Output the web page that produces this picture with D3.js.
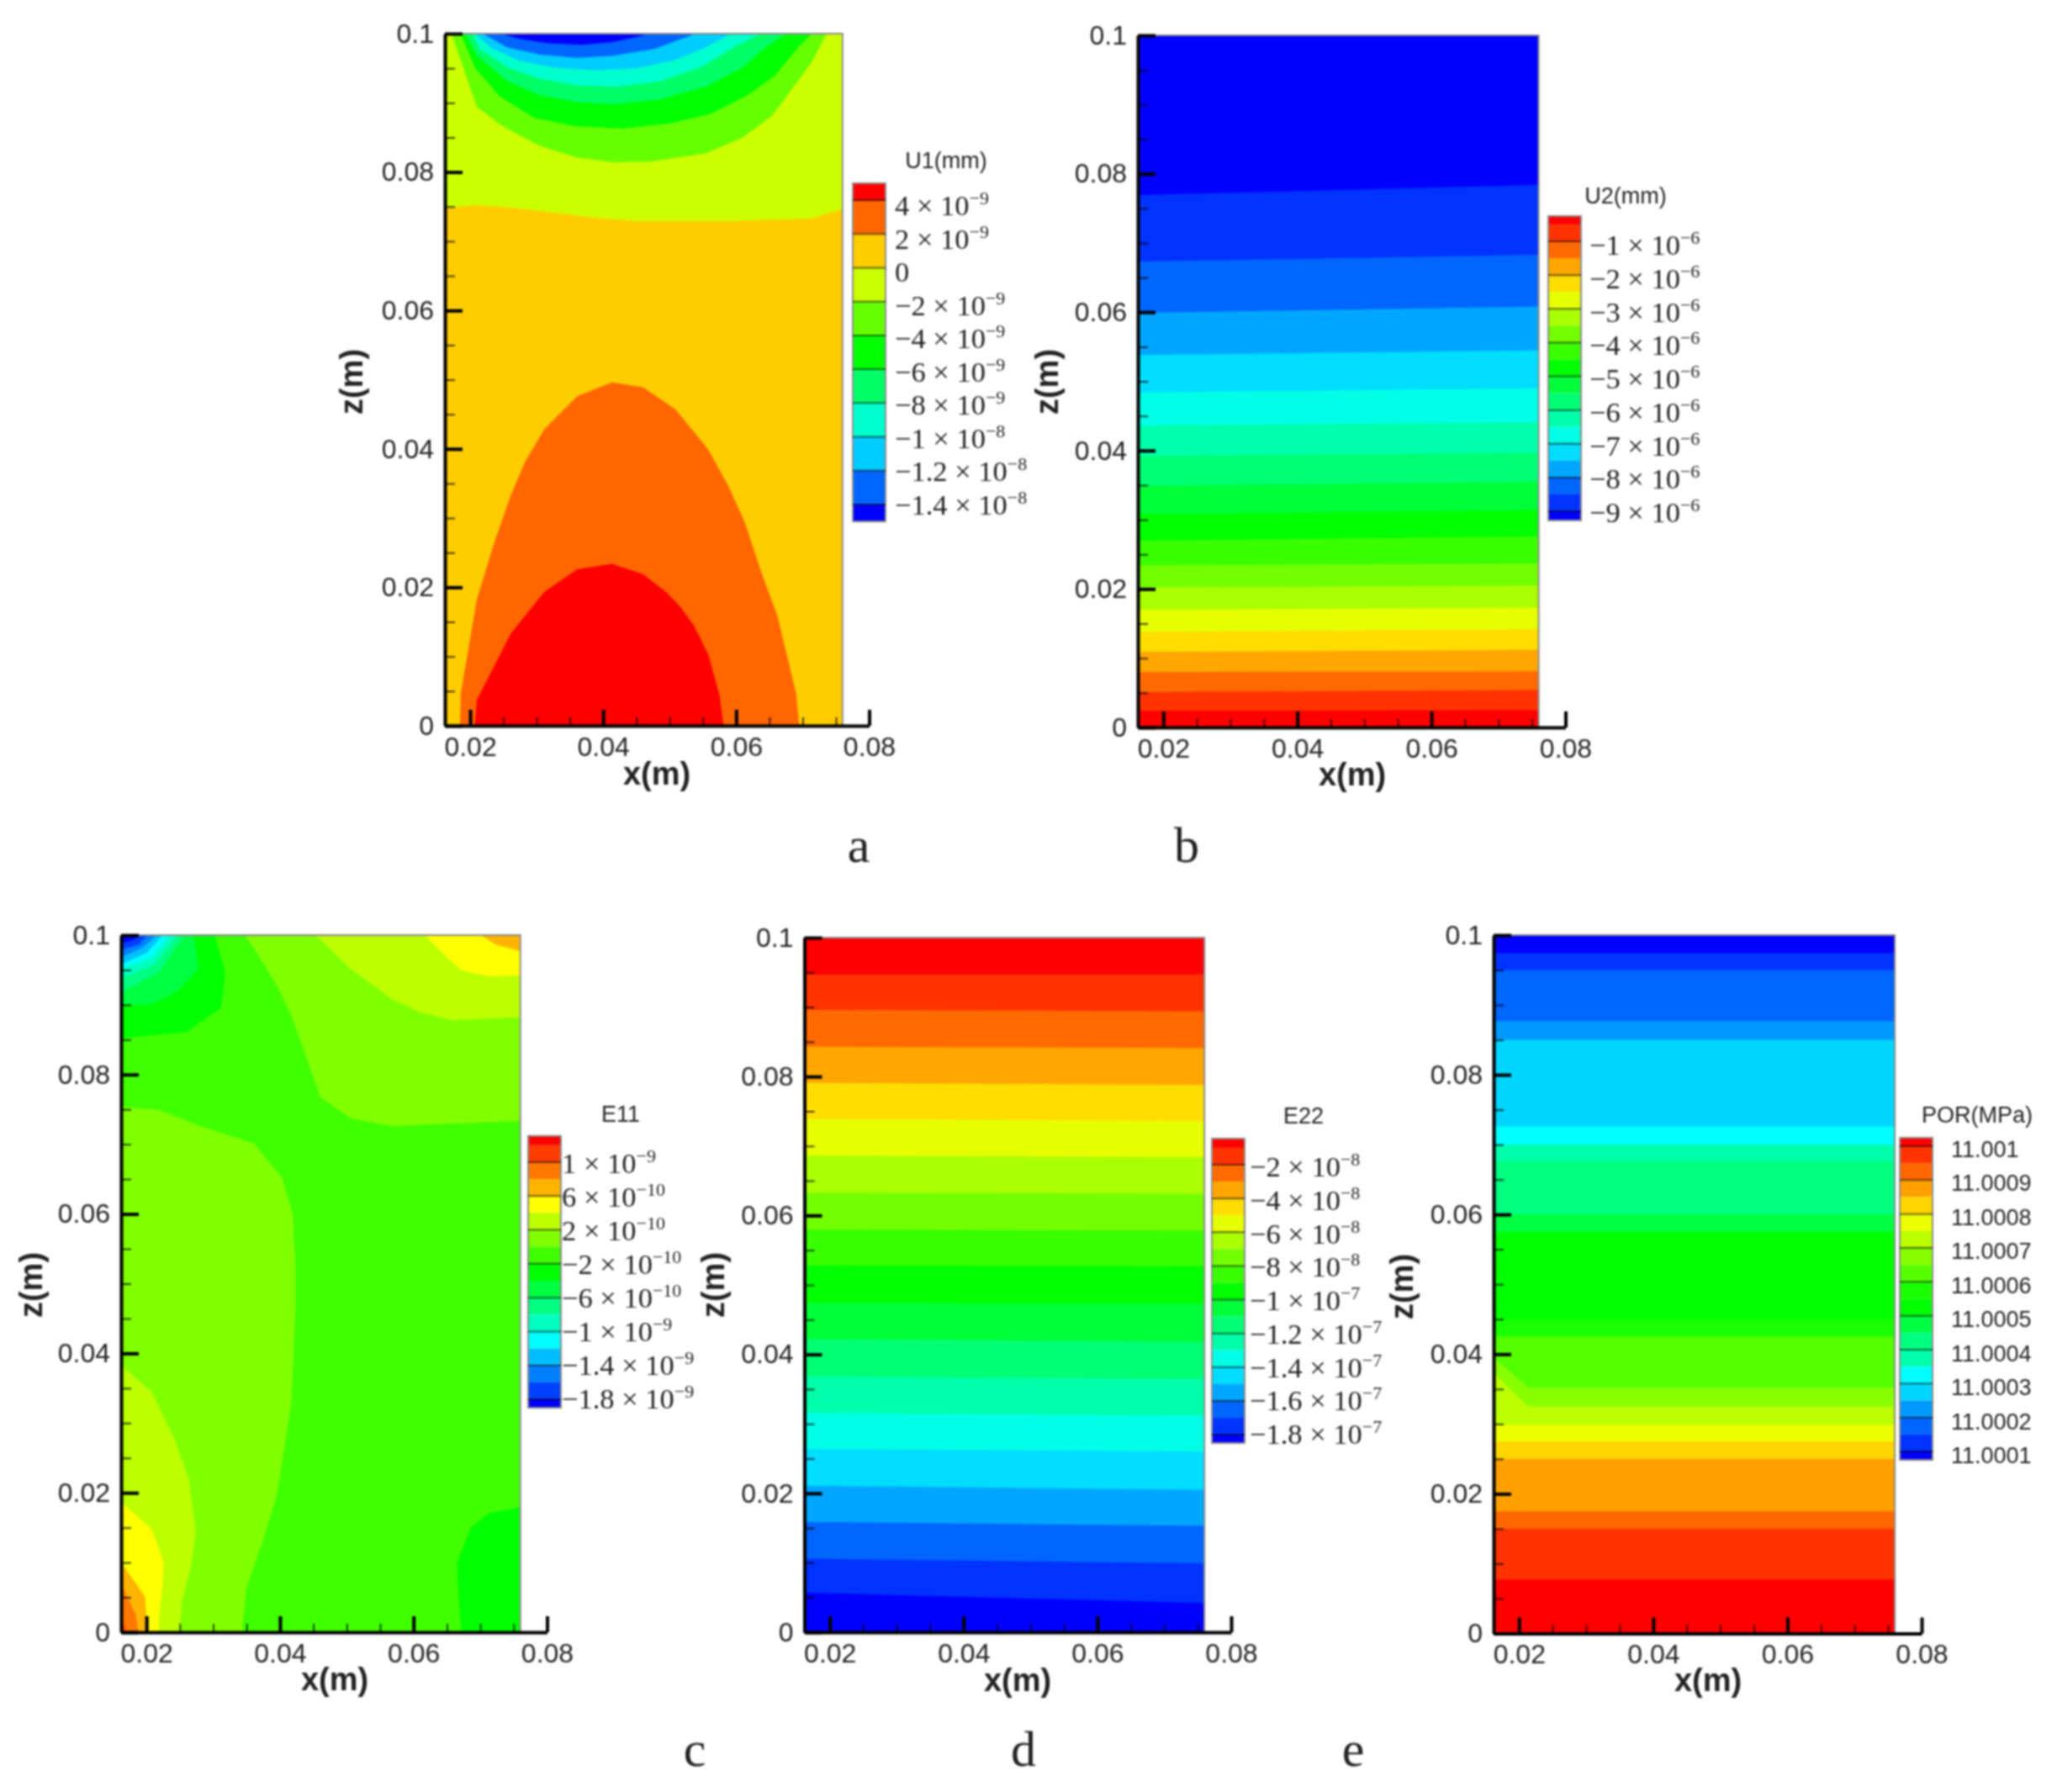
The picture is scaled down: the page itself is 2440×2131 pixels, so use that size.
<!DOCTYPE html>
<html>
<head>
<meta charset="utf-8">
<script src="https://cdn.jsdelivr.net/npm/d3@7"></script>
<style>
  html, body { margin: 0; padding: 0; background: #fff; }
  svg { display: block; filter: blur(0.8px); }
  .sans { font-family: "Liberation Sans", Arial, sans-serif; fill: #222; }
  .serif { font-family: "Liberation Serif", "Times New Roman", serif; fill: #222; }
</style>
</head>
<body>
<script>
// ! Axis values shared by all five panels
const xTicks = [0.02, 0.04, 0.06, 0.08];
const xMinorTicks = [0.025, 0.03, 0.035, 0.045, 0.05, 0.055, 0.065, 0.07, 0.075];
const zTicks = [0, 0.02, 0.04, 0.06, 0.08, 0.1];
const zMinorTicks = [0.005, 0.01, 0.015, 0.025, 0.03, 0.035, 0.045, 0.05, 0.055, 0.065, 0.07, 0.075, 0.085, 0.09, 0.095];
const xMin = 0.0162;
const xMax = 0.076;

// ! Panel a, U1: legend
const u1Edges = [5e-9, 4e-9, 2e-9, 0, -2e-9, -4e-9, -6e-9, -8e-9, -1e-8, -1.2e-8, -1.4e-8, -1.5e-8];
const u1Levels = [4e-9, 2e-9, 0, -2e-9, -4e-9, -6e-9, -8e-9, -1e-8, -1.2e-8, -1.4e-8];
const u1Labels = ["4 × 10^−9", "2 × 10^−9", "0", "−2 × 10^−9", "−4 × 10^−9", "−6 × 10^−9", "−8 × 10^−9", "−1 × 10^−8", "−1.2 × 10^−8", "−1.4 × 10^−8"];
const u1Colors = ["#ff0000", "#ff6600", "#ffcc00", "#ccff00", "#66ff00", "#00ff00", "#00ff66", "#00ffcc", "#00ccff", "#0066ff", "#0000ff"];

// ! Panel a, U1: contour outlines as [x, z]
const u1Orange = [[0.0185, 0], [0.0186, 0.0047], [0.021, 0.0182], [0.0235, 0.0261], [0.0261, 0.0333], [0.0283, 0.0382], [0.0312, 0.0429], [0.0361, 0.0476], [0.0413, 0.0496], [0.046, 0.0489], [0.0509, 0.0457], [0.0558, 0.0399], [0.0589, 0.0345], [0.0613, 0.0294], [0.0637, 0.0224], [0.0662, 0.0159], [0.069, 0.0047], [0.0695, 0]];
const u1Red = [[0.0207, 0], [0.021, 0.0037], [0.0235, 0.0084], [0.0261, 0.0133], [0.0311, 0.0193], [0.0361, 0.0226], [0.0413, 0.0234], [0.046, 0.0219], [0.0495, 0.0193], [0.0516, 0.0172], [0.0537, 0.0144], [0.0558, 0.0103], [0.0575, 0.0044], [0.0581, 0]];
const u1Zero = [[0.0162, 0.1], [0.0162, 0.0748], [0.0207, 0.0752], [0.0256, 0.0749], [0.0311, 0.0743], [0.0387, 0.0734], [0.045, 0.0729], [0.0589, 0.0729], [0.0714, 0.0733], [0.076, 0.0747], [0.076, 0.1]];
const u1Minus2 = [[0.0172, 0.1], [0.021, 0.0894], [0.0249, 0.0866], [0.0304, 0.0838], [0.036, 0.0821], [0.0415, 0.0814], [0.0471, 0.0815], [0.0554, 0.0827], [0.061, 0.085], [0.0655, 0.0882], [0.0683, 0.0919], [0.0714, 0.0959], [0.0736, 0.1]];
const u1Minus4 = [[0.0186, 0.1], [0.0207, 0.0951], [0.0245, 0.0909], [0.0297, 0.0878], [0.036, 0.0866], [0.0429, 0.0863], [0.0499, 0.087], [0.0561, 0.0884], [0.0617, 0.0911], [0.0658, 0.0939], [0.0693, 0.098], [0.0714, 0.1]];
const u1Minus6 = [[0.0193, 0.1], [0.021, 0.0968], [0.0256, 0.0931], [0.0304, 0.0911], [0.036, 0.0901], [0.0415, 0.0898], [0.0485, 0.0905], [0.0554, 0.0923], [0.061, 0.0951], [0.0644, 0.098], [0.0676, 0.1]];
const u1Minus8 = [[0.0203, 0.1], [0.0214, 0.0978], [0.0256, 0.0951], [0.0304, 0.0935], [0.036, 0.0925], [0.0422, 0.0923], [0.0485, 0.0931], [0.0547, 0.0951], [0.0596, 0.098], [0.0637, 0.1]];
const u1Minus10 = [[0.0207, 0.1], [0.0231, 0.098], [0.0273, 0.0961], [0.0325, 0.0951], [0.0387, 0.0947], [0.045, 0.095], [0.0506, 0.0961], [0.0554, 0.098], [0.0592, 0.1]];
const u1Minus12 = [[0.0219, 0.1], [0.0256, 0.098], [0.0304, 0.097], [0.036, 0.0965], [0.0415, 0.0968], [0.0478, 0.0978], [0.0539, 0.1]];
const u1Minus14 = [[0.0245, 0.1], [0.0276, 0.0992], [0.0318, 0.0986], [0.0367, 0.0984], [0.0415, 0.0988], [0.0471, 0.1]];

// ! Panel b, U2: legend and band boundaries (bottom to top, left edge / right edge)
const u2Edges = [-0.25e-6, -0.5e-6, -1e-6, -1.5e-6, -2e-6, -2.5e-6, -3e-6, -3.5e-6, -4e-6, -4.5e-6, -5e-6, -5.5e-6, -6e-6, -6.5e-6, -7e-6, -7.5e-6, -8e-6, -8.5e-6, -9e-6, -9.27e-6];
const u2Levels = [-1e-6, -2e-6, -3e-6, -4e-6, -5e-6, -6e-6, -7e-6, -8e-6, -9e-6];
const u2Labels = ["−1 × 10^−6", "−2 × 10^−6", "−3 × 10^−6", "−4 × 10^−6", "−5 × 10^−6", "−6 × 10^−6", "−7 × 10^−6", "−8 × 10^−6", "−9 × 10^−6"];
const rainbow19 = ["#ff0000", "#ff3300", "#ff6a00", "#ffa600", "#ffdd00", "#e6ff00", "#aaff00", "#73ff00", "#39ff00", "#00ff00", "#00ff39", "#00ff73", "#00ffaa", "#00ffe6", "#00ddff", "#00a6ff", "#0066ff", "#0033ff", "#0000ff"];
const u2Left = [0.0024, 0.0051, 0.008, 0.0109, 0.0138, 0.017, 0.0202, 0.0234, 0.027, 0.0308, 0.0349, 0.0392, 0.0436, 0.0484, 0.0538, 0.0599, 0.0673, 0.0769];
const u2Right = [0.0025, 0.0054, 0.0081, 0.0112, 0.0142, 0.0173, 0.0205, 0.0237, 0.0276, 0.0314, 0.0355, 0.0397, 0.0441, 0.049, 0.0545, 0.0608, 0.0683, 0.0784];

// ! Panel c, E11: legend
const e11Edges = [1.31e-9, 1.2e-9, 1e-9, 8e-10, 6e-10, 4e-10, 2e-10, 0, -2e-10, -4e-10, -6e-10, -8e-10, -1e-9, -1.2e-9, -1.4e-9, -1.6e-9, -1.8e-9, -1.9e-9];
const e11Levels = [1e-9, 6e-10, 2e-10, -2e-10, -6e-10, -1e-9, -1.4e-9, -1.8e-9];
const e11Labels = ["1 × 10^−9", "6 × 10^−10", "2 × 10^−10", "−2 × 10^−10", "−6 × 10^−10", "−1 × 10^−9", "−1.4 × 10^−9", "−1.8 × 10^−9"];
const e11Colors = ["#ff0000", "#ff3c00", "#ff7800", "#ffb400", "#ffff00", "#bbff00", "#80ff00", "#40ff00", "#00ff00", "#00ff40", "#00ff80", "#00ffc0", "#00ffff", "#00bfff", "#0080ff", "#0040ff", "#0000ff"];

// ! Panel c, E11: contour outlines as [x, z]
const e11RightA = [[0.0348, 0.1], [0.0374, 0.0961], [0.0395, 0.0928], [0.0416, 0.0887], [0.0437, 0.0831], [0.0461, 0.0767], [0.0506, 0.0737], [0.0568, 0.0726], [0.0672, 0.073], [0.076, 0.0733], [0.076, 0.1]];
const e11RightB = [[0.0453, 0.1], [0.0506, 0.0951], [0.0568, 0.0908], [0.061, 0.0889], [0.0658, 0.0878], [0.076, 0.0882], [0.076, 0.1]];
const e11RightC = [[0.0617, 0.1], [0.0648, 0.097], [0.0672, 0.0949], [0.0713, 0.0941], [0.076, 0.0942], [0.076, 0.1]];
const e11RightD = [[0.07, 0.1], [0.0724, 0.0986], [0.076, 0.0977], [0.076, 0.1]];
const e11LeftA = [[0.0162, 0], [0.0162, 0.0754], [0.0219, 0.0749], [0.0278, 0.0727], [0.0361, 0.0701], [0.0403, 0.0652], [0.0419, 0.06], [0.0423, 0.0531], [0.0423, 0.046], [0.0421, 0.0416], [0.0417, 0.0328], [0.0406, 0.0262], [0.0395, 0.0196], [0.0374, 0.013], [0.035, 0.0065], [0.0343, 0]];
const e11LeftB = [[0.0162, 0], [0.0162, 0.0383], [0.0208, 0.0345], [0.0243, 0.0275], [0.0264, 0.0218], [0.0274, 0.0144], [0.0267, 0.0095], [0.0253, 0.0043], [0.025, 0]];
const e11LeftC = [[0.0162, 0], [0.0162, 0.0187], [0.0208, 0.0148], [0.0226, 0.01], [0.0224, 0.0065], [0.0219, 0.0021], [0.0219, 0]];
const e11LeftD = [[0.0162, 0], [0.0162, 0.01], [0.0198, 0.0051], [0.02, 0.0021], [0.02, 0]];
const e11LeftE = [[0.0162, 0], [0.0162, 0.0069], [0.0184, 0.0025], [0.0188, 0]];
const e11LeftF = [[0.0162, 0], [0.0162, 0.0021], [0.017, 0]];
const e11Corner = [[0.076, 0], [0.076, 0.0179], [0.0713, 0.0171], [0.0686, 0.015], [0.0665, 0.01], [0.0668, 0.0043], [0.0672, 0]];
const e11TopA = [[0.0162, 0.1], [0.0162, 0.0852], [0.026, 0.0861], [0.0312, 0.0896], [0.0318, 0.0947], [0.0302, 0.1]];
const e11TopB = [[0.0162, 0.1], [0.0162, 0.0898], [0.0208, 0.0901], [0.0246, 0.0919], [0.0278, 0.0951], [0.0271, 0.1]];
const e11TopC = [[0.0162, 0.1], [0.0162, 0.0918], [0.0219, 0.0947], [0.0257, 0.1]];
const e11TopD = [[0.0162, 0.1], [0.0162, 0.0938], [0.0212, 0.0958], [0.0246, 0.1]];
const e11TopE = [[0.0162, 0.1], [0.0162, 0.0951], [0.0208, 0.0968], [0.0235, 0.1]];
const e11TopF = [[0.0162, 0.1], [0.0162, 0.0958], [0.0201, 0.0975], [0.0224, 0.1]];
const e11TopG = [[0.0162, 0.1], [0.0162, 0.0968], [0.0194, 0.0982], [0.0215, 0.1]];
const e11TopH = [[0.0162, 0.1], [0.0162, 0.0979], [0.0188, 0.0986], [0.0201, 0.1]];
const e11TopI = [[0.0162, 0.1], [0.0162, 0.0988], [0.0181, 0.0993], [0.0188, 0.1]];

// ! Panel d, E22: legend and band boundaries (top to bottom)
const e22Edges = [-0.45e-8, -1e-8, -2e-8, -3e-8, -4e-8, -5e-8, -6e-8, -7e-8, -8e-8, -9e-8, -1e-7, -1.1e-7, -1.2e-7, -1.3e-7, -1.4e-7, -1.5e-7, -1.6e-7, -1.7e-7, -1.8e-7, -1.85e-7];
const e22Levels = [-2e-8, -4e-8, -6e-8, -8e-8, -1e-7, -1.2e-7, -1.4e-7, -1.6e-7, -1.8e-7];
const e22Labels = ["−2 × 10^−8", "−4 × 10^−8", "−6 × 10^−8", "−8 × 10^−8", "−1 × 10^−7", "−1.2 × 10^−7", "−1.4 × 10^−7", "−1.6 × 10^−7", "−1.8 × 10^−7"];
const e22Left = [0.0947, 0.0896, 0.0843, 0.0791, 0.0739, 0.0686, 0.0633, 0.058, 0.0528, 0.0474, 0.0422, 0.0368, 0.0316, 0.0264, 0.0211, 0.0159, 0.0106, 0.0057];
const e22Right = [0.0947, 0.0894, 0.0841, 0.0788, 0.0736, 0.0684, 0.0631, 0.0578, 0.0527, 0.0473, 0.0418, 0.0365, 0.0312, 0.026, 0.0205, 0.0153, 0.0099, 0.0042];

// ! Panel e, POR: legend and band boundaries (top to bottom, left edge / knee / right edge)
const porEdges = [11.001025, 11.001, 11.00095, 11.0009, 11.00085, 11.0008, 11.00075, 11.0007, 11.00065, 11.0006, 11.00055, 11.0005, 11.00045, 11.0004, 11.00035, 11.0003, 11.00025, 11.0002, 11.00015, 11.0001, 11.000075];
const porLevels = [11.001, 11.0009, 11.0008, 11.0007, 11.0006, 11.0005, 11.0004, 11.0003, 11.0002, 11.0001];
const porLabels = ["11.001", "11.0009", "11.0008", "11.0007", "11.0006", "11.0005", "11.0004", "11.0003", "11.0002", "11.0001"];
const porLegendColors = ["#ff0000", "#ff3300", "#ff6600", "#ffa000", "#ffd500", "#eeff00", "#bbff00", "#88ff00", "#55ff00", "#1aff00", "#00ff00", "#00ff40", "#00ff80", "#00ffaa", "#00ffff", "#00d5ff", "#0099ff", "#0066ff", "#0033ff", "#0000ff"];
const porLeft = [0.0974, 0.095, 0.0877, 0.085, 0.0726, 0.07, 0.0676, 0.06, 0.0575, 0.045, 0.0425, 0.0395, 0.0373, 0.0299, 0.0275, 0.025, 0.0175, 0.015, 0.0077];
const porKnee = [0.0974, 0.095, 0.0877, 0.085, 0.0726, 0.07, 0.0676, 0.06, 0.0575, 0.045, 0.0425, 0.0352, 0.0325, 0.0299, 0.0275, 0.025, 0.0175, 0.015, 0.0077];
const porKneeX = 0.0214;

const svg = d3.select("body").append("svg").attr("width", 2440).attr("height", 2131);

// ! Regions painted back to front, as [colour, outline]
// bands listed from the bottom of the plot, so each polygon is the area above its boundary
const u2Regions = u2Left.map((_, i) => [
  rainbow19[i + 1],
  [[xMin, 0.1], [xMin, u2Left[i]], [xMax, u2Right[i]], [xMax, 0.1]],
]);

// bands listed from the top of the plot, so each polygon is the area below its boundary
const e22Regions = e22Left.map((_, i) => [
  rainbow19[i + 1],
  [[xMin, 0], [xMin, e22Left[i]], [xMax, e22Right[i]], [xMax, 0]],
]);

const porColors = porLegendColors.slice().reverse();
const porRegions = porLeft.map((_, i) => [
  porColors[i + 1],
  [[xMin, 0], [xMin, porLeft[i]], [porKneeX, porKnee[i]], [xMax, porKnee[i]], [xMax, 0]],
]);

const u1Regions = [
  [u1Colors[1], u1Orange],
  [u1Colors[0], u1Red],
  [u1Colors[3], u1Zero],
  [u1Colors[4], u1Minus2],
  [u1Colors[5], u1Minus4],
  [u1Colors[6], u1Minus6],
  [u1Colors[7], u1Minus8],
  [u1Colors[8], u1Minus10],
  [u1Colors[9], u1Minus12],
  [u1Colors[10], u1Minus14],
];

const e11Regions = [
  [e11Colors[6], e11RightA],
  [e11Colors[5], e11RightB],
  [e11Colors[4], e11RightC],
  [e11Colors[3], e11RightD],
  [e11Colors[6], e11LeftA],
  [e11Colors[5], e11LeftB],
  [e11Colors[4], e11LeftC],
  [e11Colors[3], e11LeftD],
  [e11Colors[2], e11LeftE],
  [e11Colors[1], e11LeftF],
  [e11Colors[8], e11Corner],
  [e11Colors[8], e11TopA],
  [e11Colors[9], e11TopB],
  [e11Colors[10], e11TopC],
  [e11Colors[11], e11TopD],
  [e11Colors[12], e11TopE],
  [e11Colors[13], e11TopF],
  [e11Colors[14], e11TopG],
  [e11Colors[15], e11TopH],
  [e11Colors[16], e11TopI],
];

// ! Where each panel goes on the page
const panels = [
  { id: "a", left: 529, x08: 1033.5, top: 40, bottom: 863, base: u1Colors[2], regions: u1Regions,
    legend: { x: 1014, w: 39, y0: 238, y1: 600, edges: u1Edges, levels: u1Levels, labels: u1Labels, colors: u1Colors, title: "U1(mm)", titleX: 1125, titleY: 200, labelX: 1064, labelY: [256, 612] },
    xTitle: [781, 933], zTitle: [431, 454], letter: [1021, 1025] },
  { id: "b", left: 1353, x08: 1861.5, top: 42, bottom: 865, base: rainbow19[0], regions: u2Regions,
    legend: { x: 1841, w: 39, y0: 287, y1: 608, edges: u2Edges, levels: u2Levels, labels: u2Labels, colors: rainbow19, title: "U2(mm)", titleX: 1933, titleY: 242, labelX: 1890, labelY: [303, 621] },
    xTitle: [1608, 934], zTitle: [1258, 454], letter: [1411, 1025] },
  { id: "c", left: 144, x08: 650.5, top: 1112, bottom: 1941, base: e11Colors[7], regions: e11Regions,
    legend: { x: 628, w: 39, y0: 1382, y1: 1664, edges: e11Edges, levels: e11Levels, labels: e11Labels, colors: e11Colors, title: "E11", titleX: 738, titleY: 1334, labelX: 668, labelY: [1395, 1675] },
    xTitle: [398, 2010], zTitle: [50, 1528], letter: [826, 2100] },
  { id: "d", left: 956.5, x08: 1464, top: 1115, bottom: 1941, base: rainbow19[0], regions: e22Regions,
    legend: { x: 1441, w: 39, y0: 1385, y1: 1706, edges: e22Edges, levels: e22Levels, labels: e22Labels, colors: rainbow19, title: "E22", titleX: 1550, titleY: 1336, labelX: 1486, labelY: [1399, 1717] },
    xTitle: [1210, 2011], zTitle: [861, 1528], letter: [1217, 2100] },
  { id: "e", left: 1776, x08: 2285, top: 1112, bottom: 1942.5, base: porColors[0], regions: porRegions,
    legend: { x: 2259, w: 39, y0: 1363, y1: 1726, edges: porEdges, levels: porLevels, labels: porLabels, colors: porLegendColors, title: "POR(MPa)", titleX: 2351, titleY: 1335, labelX: 2320, labelY: [1376, 1740], sans: true },
    xTitle: [2031, 2011], zTitle: [1680, 1530], letter: [1609, 2100] },
];

// ! Drawing one panel
const renderPanel = (p) => {
  const xScale = d3.scaleLinear().domain([xMin, 0.08]).range([p.left, p.x08]);
  const zScale = d3.scaleLinear().domain([0, 0.1]).range([p.bottom, p.top]);
  const g = svg.append("g").attr("id", "panel-" + p.id);

  const outline = d3
    .line()
    .x((d) => xScale(d[0]))
    .y((d) => zScale(d[1]));

  g.append("clipPath")
    .attr("id", "clip-" + p.id)
    .append("rect")
    .attr("x", xScale(xMin))
    .attr("y", zScale(0.1))
    .attr("width", xScale(xMax) - xScale(xMin))
    .attr("height", zScale(0) - zScale(0.1));

  const field = g.append("g").attr("clip-path", `url(#clip-${p.id})`);
  field
    .append("rect")
    .attr("x", xScale(xMin))
    .attr("y", zScale(0.1))
    .attr("width", xScale(xMax) - xScale(xMin))
    .attr("height", zScale(0) - zScale(0.1))
    .attr("fill", p.base);
  field
    .selectAll("path")
    .data(p.regions)
    .enter()
    .append("path")
    .attr("d", (d) => outline(d[1]) + "Z")
    .attr("fill", (d) => d[0]);

  // ! Thin grey frame on the open sides
  g.append("path")
    .attr("d", outline([[xMin, 0.1], [xMax, 0.1], [xMax, 0]]))
    .attr("fill", "none")
    .attr("stroke", "#8c8c8c")
    .attr("stroke-width", 2);

  // ! Axes, minor first so the major ticks sit on top
  const minorX = g
    .append("g")
    .attr("transform", `translate(0, ${p.bottom})`)
    .call(d3.axisBottom(xScale).tickValues(xMinorTicks).tickSize(-10).tickSizeOuter(0).tickFormat(""));
  const minorZ = g
    .append("g")
    .attr("transform", `translate(${p.left}, 0)`)
    .call(d3.axisLeft(zScale).tickValues(zMinorTicks).tickSize(-12).tickSizeOuter(0).tickFormat(""));
  [minorX, minorZ].forEach((a) => {
    a.select(".domain").remove();
    a.selectAll("line").attr("stroke", "#000").attr("stroke-width", 2).attr("stroke-opacity", 0.7);
  });

  const majorX = g
    .append("g")
    .attr("transform", `translate(0, ${p.bottom})`)
    .call(d3.axisBottom(xScale).tickValues(xTicks).tickSize(-19).tickSizeOuter(0).tickPadding(13).tickFormat((d) => d));
  const majorZ = g
    .append("g")
    .attr("transform", `translate(${p.left}, 0)`)
    .call(d3.axisLeft(zScale).tickValues(zTicks).tickSize(-21).tickSizeOuter(0).tickPadding(13).tickFormat((d) => d));
  [majorX, majorZ].forEach((a) => {
    a.attr("font-family", null).attr("font-size", null);
    a.select(".domain").attr("stroke", "#000").attr("stroke-width", 4);
    a.selectAll("line").attr("stroke", "#000").attr("stroke-width", 4);
    a.selectAll("text").attr("class", "sans").style("font-size", "32px");
  });

  // ! Axis titles
  g.append("text")
    .attr("class", "sans")
    .attr("x", p.xTitle[0])
    .attr("y", p.xTitle[1])
    .attr("text-anchor", "middle")
    .style("font-size", "38px")
    .style("font-weight", "bold")
    .text("x(m)");
  g.append("text")
    .attr("class", "sans")
    .attr("transform", `translate(${p.zTitle[0]}, ${p.zTitle[1]}) rotate(-90)`)
    .attr("text-anchor", "middle")
    .style("font-size", "38px")
    .style("font-weight", "bold")
    .text("z(m)");

  // ! Legend
  const lg = p.legend;
  const levelDomain = [lg.levels[0], lg.levels[lg.levels.length - 1]];
  const legendScale = d3.scaleLinear().domain(levelDomain).range([lg.y0, lg.y1]);
  const labelScale = d3.scaleLinear().domain(levelDomain).range(lg.labelY);
  const legend = g.append("g").attr("class", "legend");
  legend
    .selectAll("rect")
    .data(d3.pairs(lg.edges))
    .enter()
    .append("rect")
    .attr("x", lg.x)
    .attr("y", (d) => legendScale(d[0]))
    .attr("width", lg.w)
    .attr("height", (d) => legendScale(d[1]) - legendScale(d[0]))
    .attr("fill", (d, i) => lg.colors[i]);
  legend
    .append("rect")
    .attr("x", lg.x)
    .attr("y", legendScale(lg.edges[0]))
    .attr("width", lg.w)
    .attr("height", legendScale(lg.edges[lg.edges.length - 1]) - legendScale(lg.edges[0]))
    .attr("fill", "none")
    .attr("stroke", "#8c8c8c")
    .attr("stroke-width", 2);
  legend
    .selectAll("line")
    .data(lg.levels)
    .enter()
    .append("line")
    .attr("x1", lg.x)
    .attr("x2", lg.x + lg.w)
    .attr("y1", (d) => legendScale(d))
    .attr("y2", (d) => legendScale(d))
    .attr("stroke", "#000")
    .attr("stroke-opacity", 0.55)
    .attr("stroke-width", 2);

  legend
    .append("text")
    .attr("class", "sans")
    .attr("x", lg.titleX)
    .attr("y", lg.titleY)
    .attr("text-anchor", "middle")
    .style("font-size", "27px")
    .text(lg.title);

  const labels = legend
    .selectAll("text.level")
    .data(lg.levels)
    .enter()
    .append("text")
    .attr("class", lg.sans ? "sans level" : "serif level")
    .attr("x", lg.labelX)
    .attr("y", (d) => labelScale(d))
    .style("font-size", lg.sans ? "27px" : "34.5px");
  labels.each(function (d, i) {
    const parts = lg.labels[i].split("^");
    const t = d3.select(this);
    t.append("tspan").text(parts[0]);
    if (parts[1]) {
      t.append("tspan").attr("dy", -13).style("font-size", "22px").text(parts[1]);
    }
  });

  // ! Panel letter
  g.append("text")
    .attr("class", "serif")
    .attr("x", p.letter[0])
    .attr("y", p.letter[1])
    .attr("text-anchor", "middle")
    .style("font-size", "60px")
    .text(p.id);
};

panels.forEach(renderPanel);
</script>
</body>
</html>
